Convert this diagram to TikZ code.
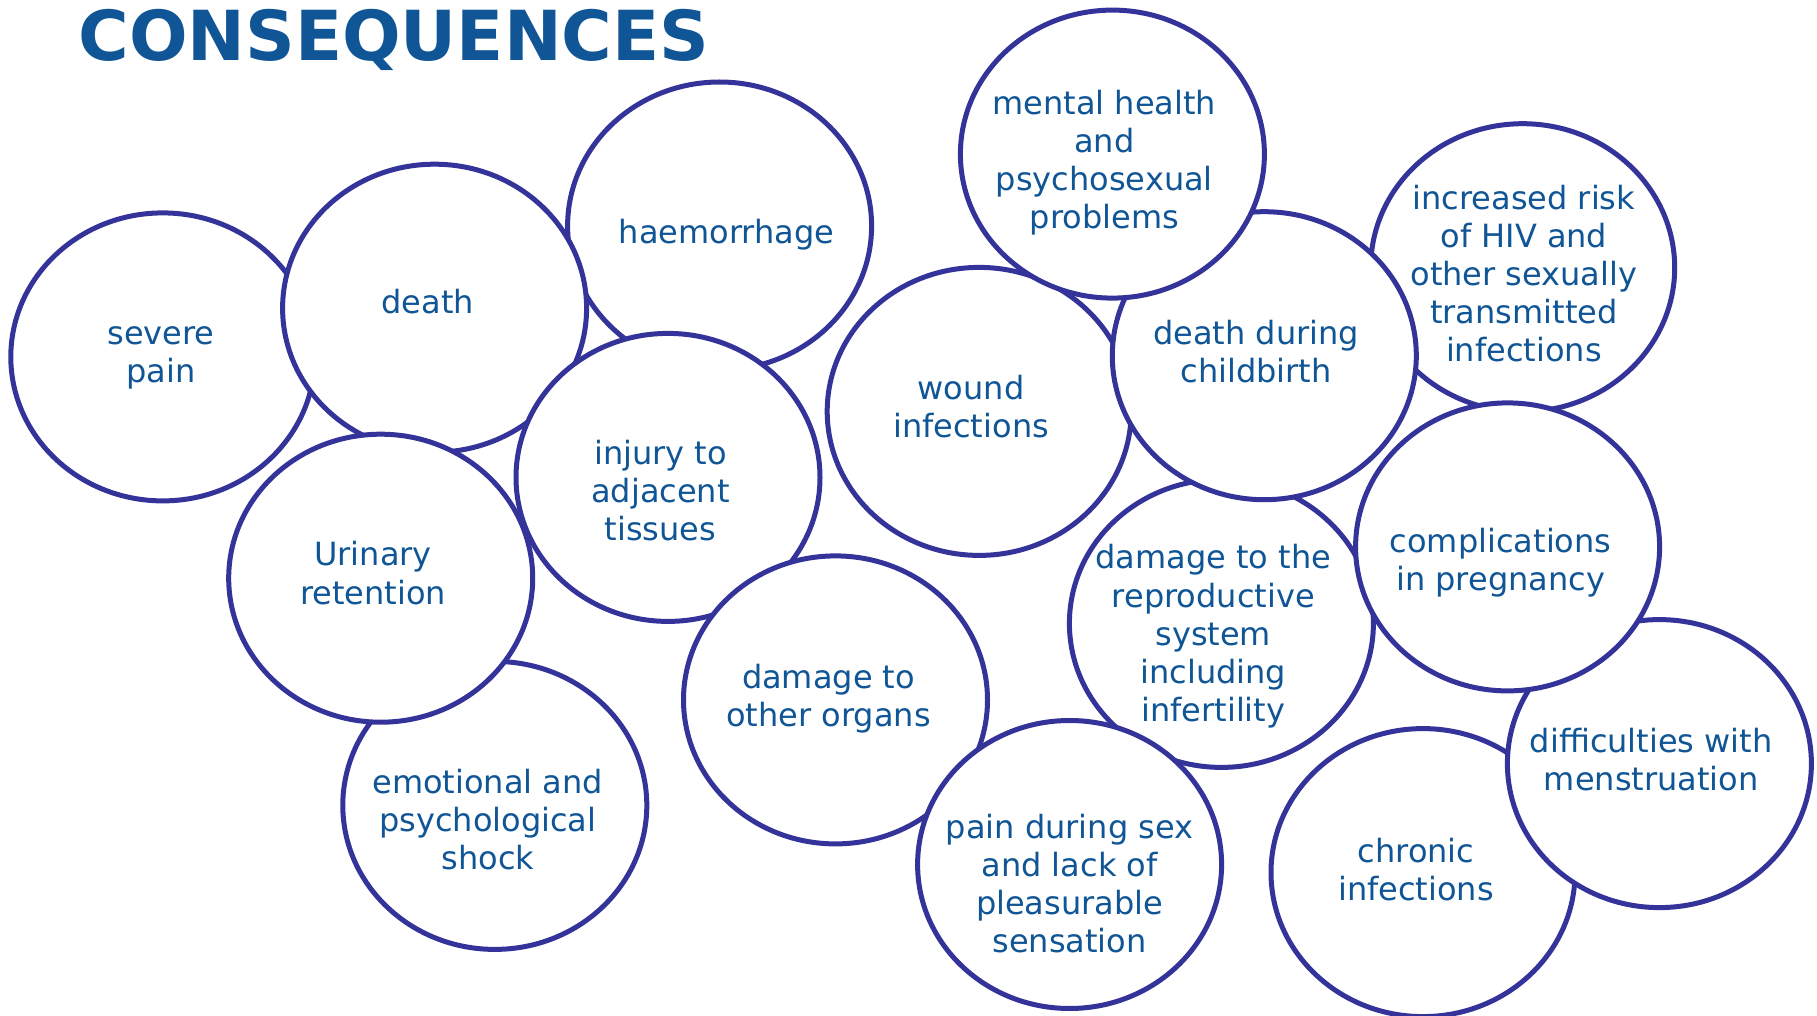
\documentclass[tikz,border=0pt]{standalone}
\usepackage{fontspec}
\setmainfont{DejaVu Sans}
\usetikzlibrary{shapes.geometric}
\definecolor{txtblue}{HTML}{105595}
\definecolor{ringblue}{HTML}{333399}
\tikzset{
  bubble/.style={ellipse, draw=ringblue, line width=2.5pt, fill=white, inner sep=0pt,
    minimum width=152pt, minimum height=144pt},
  lbl/.style={text=txtblue, align=center, inner sep=0pt,
    font=\fontsize{16}{19.1}\selectfont},
  ttl/.style={text=txtblue, inner sep=0pt, anchor=base west,
    font=\fontsize{34.5}{40}\selectfont\bfseries}
}
\begin{document}
\begin{tikzpicture}[x=0.5pt,y=-0.5pt]
\useasboundingbox (0,0) rectangle (1817,1016);
\node[ttl] (title) at (78,61) {CONSEQUENCES};

\node[bubble] (c1) at (162.8,356.9) {};
\node[lbl] (t1) at (161.1,357.7) {severe\\pain};

\node[bubble] (c3) at (719.6,226) {};
\node[lbl] (t3) at (726.6,235) {haemorrhage};

\node[bubble] (c2) at (434.6,308.2) {};
\node[lbl] (t2) at (427.6,301.3) {death};

\node[bubble] (c6) at (494.8,805.4) {};
\node[lbl] (t6) at (487.8,819.3) {emotional and\\psychological\\shock};

\node[bubble] (c5) at (380.7,578.2) {};
\node[lbl] (t5) at (373.1,573) {Urinary\\retention};

\node[bubble] (c4) at (668,477.4) {};
\node[lbl] (t4) at (660.5,490.7) {injury to\\adjacent\\tissues};

\node[bubble] (c7) at (835.5,699.9) {};
\node[lbl] (t7) at (828.5,698.4) {damage to\\other organs};

\node[bubble] (c8) at (979.2,411.4) {};
\node[lbl] (t8) at (971.1,406.7) {wound\\infections};

\node[bubble] (c11) at (1522.7,267.7) {};
\node[lbl] (t11) at (1523.9,273.5) {increased risk\\of HIV and\\other sexually\\transmitted\\infections};

\node[bubble] (c12) at (1221.4,623.4) {};
\node[lbl] (t12) at (1213.3,636.4) {damage to the\\reproductive\\system\\including\\infertility};

\node[bubble] (c10) at (1264.3,355.7) {};
\node[lbl] (t10) at (1256.2,351.7) {death during\\childbirth};

\node[bubble] (c9) at (1112.4,154.1) {};
\node[lbl] (t9) at (1104.3,162.8) {mental health\\and\\psychosexual\\problems};

\node[bubble] (c15) at (1423,872.6) {};
\node[lbl] (t15) at (1416,869.7) {chronic\\infections};

\node[bubble] (c16) at (1659.4,763.6) {};
\node[lbl] (t16) at (1651.3,759.6) {difficulties with\\menstruation};

\node[bubble] (c13) at (1507.6,546.9) {};
\node[lbl] (t13) at (1500.6,562.8) {complications\\in pregnancy};

\node[bubble] (c14) at (1069.6,864.5) {};
\node[lbl] (t14) at (1069.6,883.6) {pain during sex\\and lack of\\pleasurable\\sensation};
\end{tikzpicture}
\end{document}
